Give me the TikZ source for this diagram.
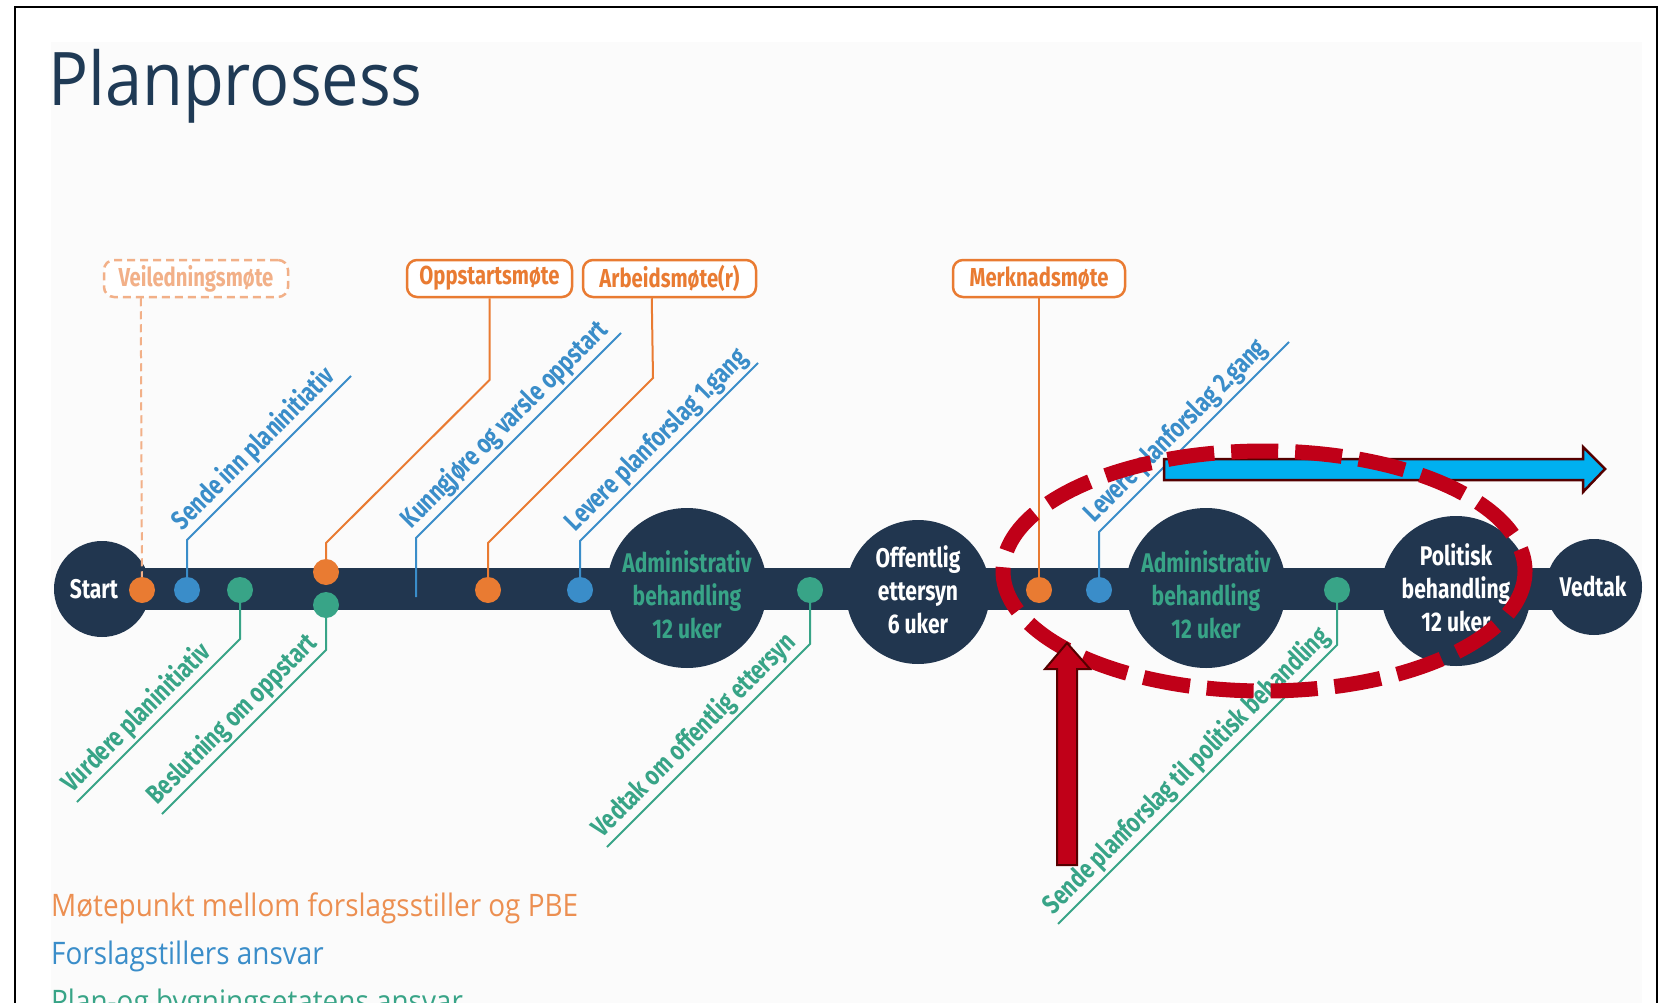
\documentclass[tikz,border=0pt]{standalone}
\usepackage{fontspec}
\setmainfont{Open Sans}
\newfontfamily\cond[FakeStretch=0.78]{Fira Sans}
\newfontfamily\hum[FakeStretch=0.9]{Open Sans}
\definecolor{navy}{HTML}{21364F}
\definecolor{orng}{HTML}{E97B32}
\definecolor{orngl}{HTML}{F2B088}
\definecolor{blu}{HTML}{3A8DC9}
\definecolor{grn}{HTML}{38A487}
\definecolor{redd}{HTML}{C00018}
\definecolor{darkred}{HTML}{550000}
\definecolor{sky}{HTML}{00B0F0}
\definecolor{panel}{HTML}{FBFBFB}
\definecolor{ttl}{HTML}{1F3A55}
\begin{document}
\begin{tikzpicture}[x=1pt,y=-1pt,
  dot/.style={circle, minimum size=26pt, inner sep=0pt},
  bigc/.style={circle, fill=navy, inner sep=0pt},
  ctext/.style={inner sep=0pt, align=center, font=\cond\bfseries\fontsize{27}{33}\selectfont},
  mbox/.style={draw=orng, line width=2.5pt, rounded corners=10pt, fill=white, text=orng, minimum height=37pt, inner sep=0pt, font=\cond\bfseries\fontsize{26}{30}\selectfont},
  lbl/.style={rotate=45, anchor=south west, inner sep=3pt, font=\cond\bfseries\fontsize{27}{30}\selectfont},
  conn/.style={line width=2pt},
  legend/.style={anchor=base west, inner sep=0pt, font=\hum\fontsize{31}{34}\selectfont}]
\useasboundingbox (0,0) rectangle (1670,1003);
\clip (0,0) rectangle (1670,1003);
\fill[white] (0,0) rectangle (1670,1003);
\fill[panel] (51,42) rectangle (1642,1020);
\draw[line width=2.5pt] (15,7) rectangle (1657,1030);

% title
\node[anchor=base west, inner sep=0pt, text=ttl, font=\hum\fontsize{74}{80}\selectfont] (title) at (48,106) {Planprosess};

% meeting boxes
\node[mbox, draw=orngl, text=orngl, dash pattern=on 8pt off 5pt, minimum width=184pt] (veil) at (196,278.5) {Veiledningsmøte};
\node[mbox, minimum width=165pt] (oppst) at (489.5,278.5) {Oppstartsmøte};
\node[mbox, minimum width=173pt] (arb) at (669.5,278.5) {Arbeidsmøte(r)};
\node[mbox, minimum width=172pt] (merk) at (1039,278.5) {Merknadsmøte};

% bar and circles
\fill[navy] (102,568) rectangle (1594,610);
\node[bigc, minimum size=96pt] (start) at (102,589) {};
\node[bigc, minimum size=160pt] (adm1) at (687,588) {};
\node[bigc, minimum size=144pt] (off) at (918,592) {};
\node[bigc, minimum size=160pt] (adm2) at (1206,588) {};
\node[bigc, minimum size=150pt] (pol) at (1456,591) {};
\node[bigc, minimum size=96pt] (ved) at (1594,587) {};

\node[ctext, text=white] (startt) at (94,589) {Start};
\node[ctext, text=grn] (adm1t) at (687,595) {Administrativ\\behandling\\12 uker};
\node[ctext, text=white] (offt) at (918,590) {Offentlig\\ettersyn\\6 uker};
\node[ctext, text=grn] (adm2t) at (1206,595) {Administrativ\\behandling\\12 uker};
\node[ctext, text=white] (polt) at (1456,588) {Politisk\\behandling\\12 uker};
\node[ctext, text=white] (vedt) at (1593,586) {Vedtak};

% dot positions
\coordinate (o1c) at (142,590);
\coordinate (b1c) at (187,590);
\coordinate (g1c) at (240,590);
\coordinate (o2c) at (326,572);
\coordinate (g2c) at (326,605);
\coordinate (o3c) at (488,590);
\coordinate (b2c) at (580,590);
\coordinate (g3c) at (810,590);
\coordinate (o4c) at (1039,590);
\coordinate (b3c) at (1099,590);
\coordinate (g4c) at (1337,590);

% orange connectors
\draw[conn, orngl, dash pattern=on 8pt off 5pt] ([xshift=38pt]veil.south west) -- (o1c);
\draw[conn, orng] (oppst.south) -- (489.5,380) -- (326,543) -- (o2c);
\draw[conn, orng] ([xshift=70pt]arb.south west) -- (653,378) -- (488,543) -- (o3c);
\draw[conn, orng] (merk.south) -- (o4c);

% blue connectors
\draw[conn, blu] (b1c) -- (187,540) coordinate (b1k) -- (351,376);
\coordinate (k0) at (416,597);
\draw[conn, blu] (k0) -- (416,538) coordinate (kk) -- (621,333);
\draw[conn, blu] (b2c) -- (580,541) coordinate (b2k) -- (758,363);
\draw[conn, blu] (b3c) -- (1099,532) coordinate (b3k) -- (1289,342);

% green connectors
\draw[conn, grn] (g1c) -- (240,639) -- (77,802) coordinate (g1e);
\draw[conn, grn] (g2c) -- (326,650) -- (162,814) coordinate (g2e);
\draw[conn, grn] (g3c) -- (810,644) -- (607,847) coordinate (g3e);
\draw[conn, grn] (g4c) -- (1337,645) -- (1058,924) coordinate (g4e);

% dots
\node[dot, fill=orng] (o1) at (o1c) {};
\node[dot, fill=blu] (b1) at (b1c) {};
\node[dot, fill=grn] (g1) at (g1c) {};
\node[dot, fill=orng] (o2) at (o2c) {};
\node[dot, fill=grn] (g2) at (g2c) {};
\node[dot, fill=orng] (o3) at (o3c) {};
\node[dot, fill=blu] (b2) at (b2c) {};
\node[dot, fill=grn] (g3) at (g3c) {};
\node[dot, fill=orng] (o4) at (o4c) {};
\node[dot, fill=blu] (b3) at (b3c) {};
\node[dot, fill=grn] (g4) at (g4c) {};

% diagonal labels
\node[lbl, text=blu] (t1) at (b1k) {Sende inn planinitiativ};
\node[lbl, text=blu] (t2) at (kk) {Kunngjøre og varsle oppstart};
\node[lbl, text=blu] (t3) at (b2k) {Levere planforslag 1.gang};
\node[lbl, text=blu] (t4) at (b3k) {Levere planforslag 2.gang};
\node[lbl, text=grn] (t5) at (g1e) {Vurdere planinitiativ};
\node[lbl, text=grn] (t6) at (g2e) {Beslutning om oppstart};
\node[lbl, text=grn] (t7) at (g3e) {Vedtak om offentlig ettersyn};
\node[lbl, text=grn] (t8) at (g4e) {Sende planforslag til politisk behandling};

% legend
\node[legend, text=orng!85!white] (l1) at (51,916) {Møtepunkt mellom forslagsstiller og PBE};
\node[legend, text=blu] (l2) at (51,964) {Forslagstillers ansvar};
\node[legend, text=grn] (l3) at (51,1012) {Plan-og bygningsetatens ansvar};

% annotations
\filldraw[fill=sky, draw=darkred, line width=2.5pt, line join=miter]
  (1164,459) -- (1583,459) -- (1583,447) -- (1605,469) -- (1583,492) -- (1583,480) -- (1164,480) -- cycle;
\draw[redd, line width=15pt, dash pattern=on 47pt off 17pt] (1264,571) ellipse [x radius=261, y radius=120];
\filldraw[fill=redd, draw=darkred, line width=2pt, line join=miter]
  (1057,865) -- (1057,669) -- (1045,669) -- (1067,643) -- (1090,669) -- (1077,669) -- (1077,865) -- cycle;
\end{tikzpicture}
\end{document}
